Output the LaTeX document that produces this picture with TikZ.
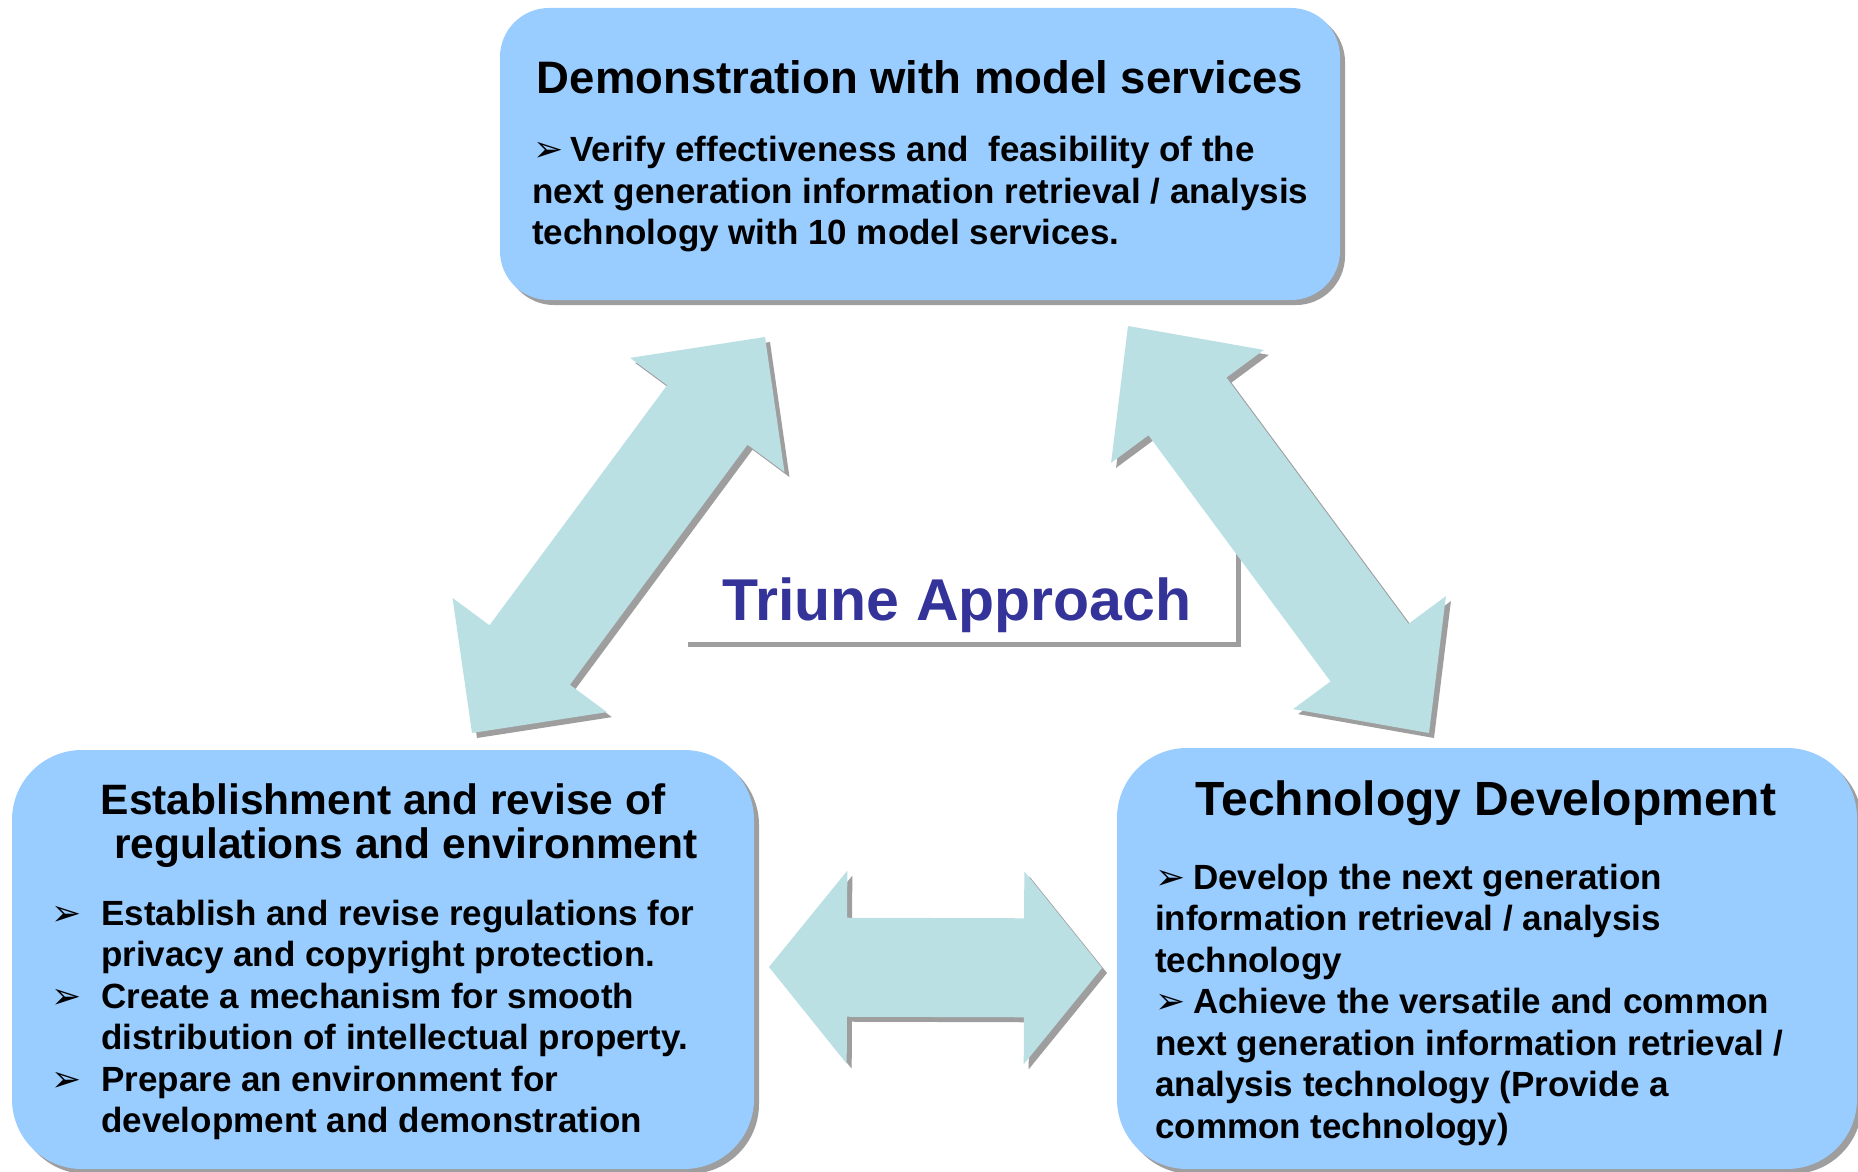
\documentclass[tikz,border=0pt]{standalone}
\usepackage{fontspec}
\setmainfont{Liberation Sans}
\newfontfamily\dvfont{DejaVu Sans}
\usetikzlibrary{calc,shadows}
\definecolor{boxblue}{RGB}{153,204,255}
\definecolor{arrowcyan}{RGB}{186,224,228}
\definecolor{shadowgray}{RGB}{158,158,158}
\definecolor{triblue}{RGB}{51,51,153}

\newcommand\dblarrow[5]{% #1 from, #2 to, #3 head length, #4 head half width, #5 shaft half width
  \coordinate (#1-p) at ($(#1)!#3!(#2)$);
  \coordinate (#2-p) at ($(#2)!#3!(#1)$);
  \begin{scope}[transform canvas={shift={(5pt,-5pt)}}]
    \fill[shadowgray] (#1) -- ($(#1-p)!#4!90:(#2)$) -- ($(#1-p)!#5!90:(#2)$) -- ($(#2-p)!#5!-90:(#1)$) -- ($(#2-p)!#4!-90:(#1)$) -- (#2) -- ($(#2-p)!#4!90:(#1)$) -- ($(#2-p)!#5!90:(#1)$) -- ($(#1-p)!#5!-90:(#2)$) -- ($(#1-p)!#4!-90:(#2)$) -- cycle;
  \end{scope}
  \fill[arrowcyan] (#1) -- ($(#1-p)!#4!90:(#2)$) -- ($(#1-p)!#5!90:(#2)$) -- ($(#2-p)!#5!-90:(#1)$) -- ($(#2-p)!#4!-90:(#1)$) -- (#2) -- ($(#2-p)!#4!90:(#1)$) -- ($(#2-p)!#5!90:(#1)$) -- ($(#1-p)!#5!-90:(#2)$) -- ($(#1-p)!#4!-90:(#2)$) -- cycle;
}

\begin{document}
\begin{tikzpicture}[x=1pt,y=-1pt,
  box/.style={draw=none, fill=boxblue, rounded corners=#1, inner sep=0pt,
    drop shadow={shadow xshift=5pt, shadow yshift=-5pt, fill=shadowgray, opacity=1}},
  titletext/.style={font=\fontsize{#1}{50}\selectfont\bfseries, inner sep=0pt, anchor=base},
  bodytext/.style={font=\fontsize{35}{41}\selectfont\bfseries, inner sep=0pt, anchor=base west},
  bullet/.style={font=\dvfont\fontsize{36}{40}\selectfont, inner sep=0pt, anchor=base west}]

\useasboundingbox (0,0) rectangle (1858,1172);
\fill[white] (0,0) rectangle (1858,1172);

% boxes
\node[box=49pt, minimum width=840pt, minimum height=292pt] (topbox) at (920,154) {};
\node[box=70pt, minimum width=742pt, minimum height=419pt] (leftbox) at (383,959.5) {};
\node[box=70pt, minimum width=740pt, minimum height=421pt] (rightbox) at (1487,958.5) {};

% triune box
\node[fill=white, draw=none, inner sep=0pt, minimum width=553pt, minimum height=94pt,
  drop shadow={shadow xshift=5pt, shadow yshift=-5pt, fill=shadowgray, opacity=1}] (tribox) at (959.5,595) {};

% block arrows
\coordinate (la1) at (765,337);
\coordinate (la2) at (472,733);
\coordinate (ra1) at (1128,326);
\coordinate (ra2) at (1429,733);
\coordinate (ha1) at (769,967);
\coordinate (ha2) at (1102,968);
\dblarrow{la1}{la2}{97pt}{96pt}{50pt}
\dblarrow{ra1}{ra2}{100pt}{95pt}{48.5pt}
\dblarrow{ha1}{ha2}{78pt}{96.5pt}{49.5pt}

% triune text
\node[font=\fontsize{59}{70}\selectfont\bfseries, text=triblue, inner sep=0pt, anchor=base] (tri) at (957,620) {Triune Approach};

% top box text
\node[titletext=45.5] (ttitle) at (920,93) {Demonstration with model services};
\node[bullet] (tb1) at (533,161.5) {➢};
\node[bodytext] (tl1) at (570,161.5) {Verify effectiveness and~~feasibility of the};
\node[bodytext] (tl2) at (532,203) {next generation information retrieval / analysis};
\node[bodytext] (tl3) at (532,244.5) {technology with 10 model services.};

% left box text
\node[titletext=42.5] (ltitle1) at (383,814) {Establishment and revise of};
\node[titletext=42.5] (ltitle2) at (406,858.5) {regulations and environment};
\node[bullet] (lb1) at (51,925) {➢};
\node[bodytext] (ll1) at (101,925) {Establish and revise regulations for};
\node[bodytext] (ll2) at (101,966.5) {privacy and copyright protection.};
\node[bullet] (lb2) at (51,1008) {➢};
\node[bodytext] (ll3) at (101,1008) {Create a mechanism for smooth};
\node[bodytext] (ll4) at (101,1049.5) {distribution of intellectual property.};
\node[bullet] (lb3) at (51,1091) {➢};
\node[bodytext] (ll5) at (101,1091) {Prepare an environment for};
\node[bodytext] (ll6) at (101,1132.5) {development and demonstration};

% right box text
\node[titletext=48] (rtitle) at (1486,815) {Technology Development};
\node[bullet] (rb1) at (1155,889) {➢};
\node[bodytext] (rl1) at (1193,889) {Develop the next generation};
\node[bodytext] (rl2) at (1155,930.5) {information retrieval / analysis};
\node[bodytext] (rl3) at (1155,972) {technology};
\node[bullet] (rb2) at (1155,1013.5) {➢};
\node[bodytext] (rl4) at (1193,1013.5) {Achieve the versatile and common};
\node[bodytext] (rl5) at (1155,1055) {next generation information retrieval /};
\node[bodytext] (rl6) at (1155,1096.5) {analysis technology (Provide a};
\node[bodytext] (rl7) at (1155,1138) {common technology)};

\end{tikzpicture}
\end{document}
